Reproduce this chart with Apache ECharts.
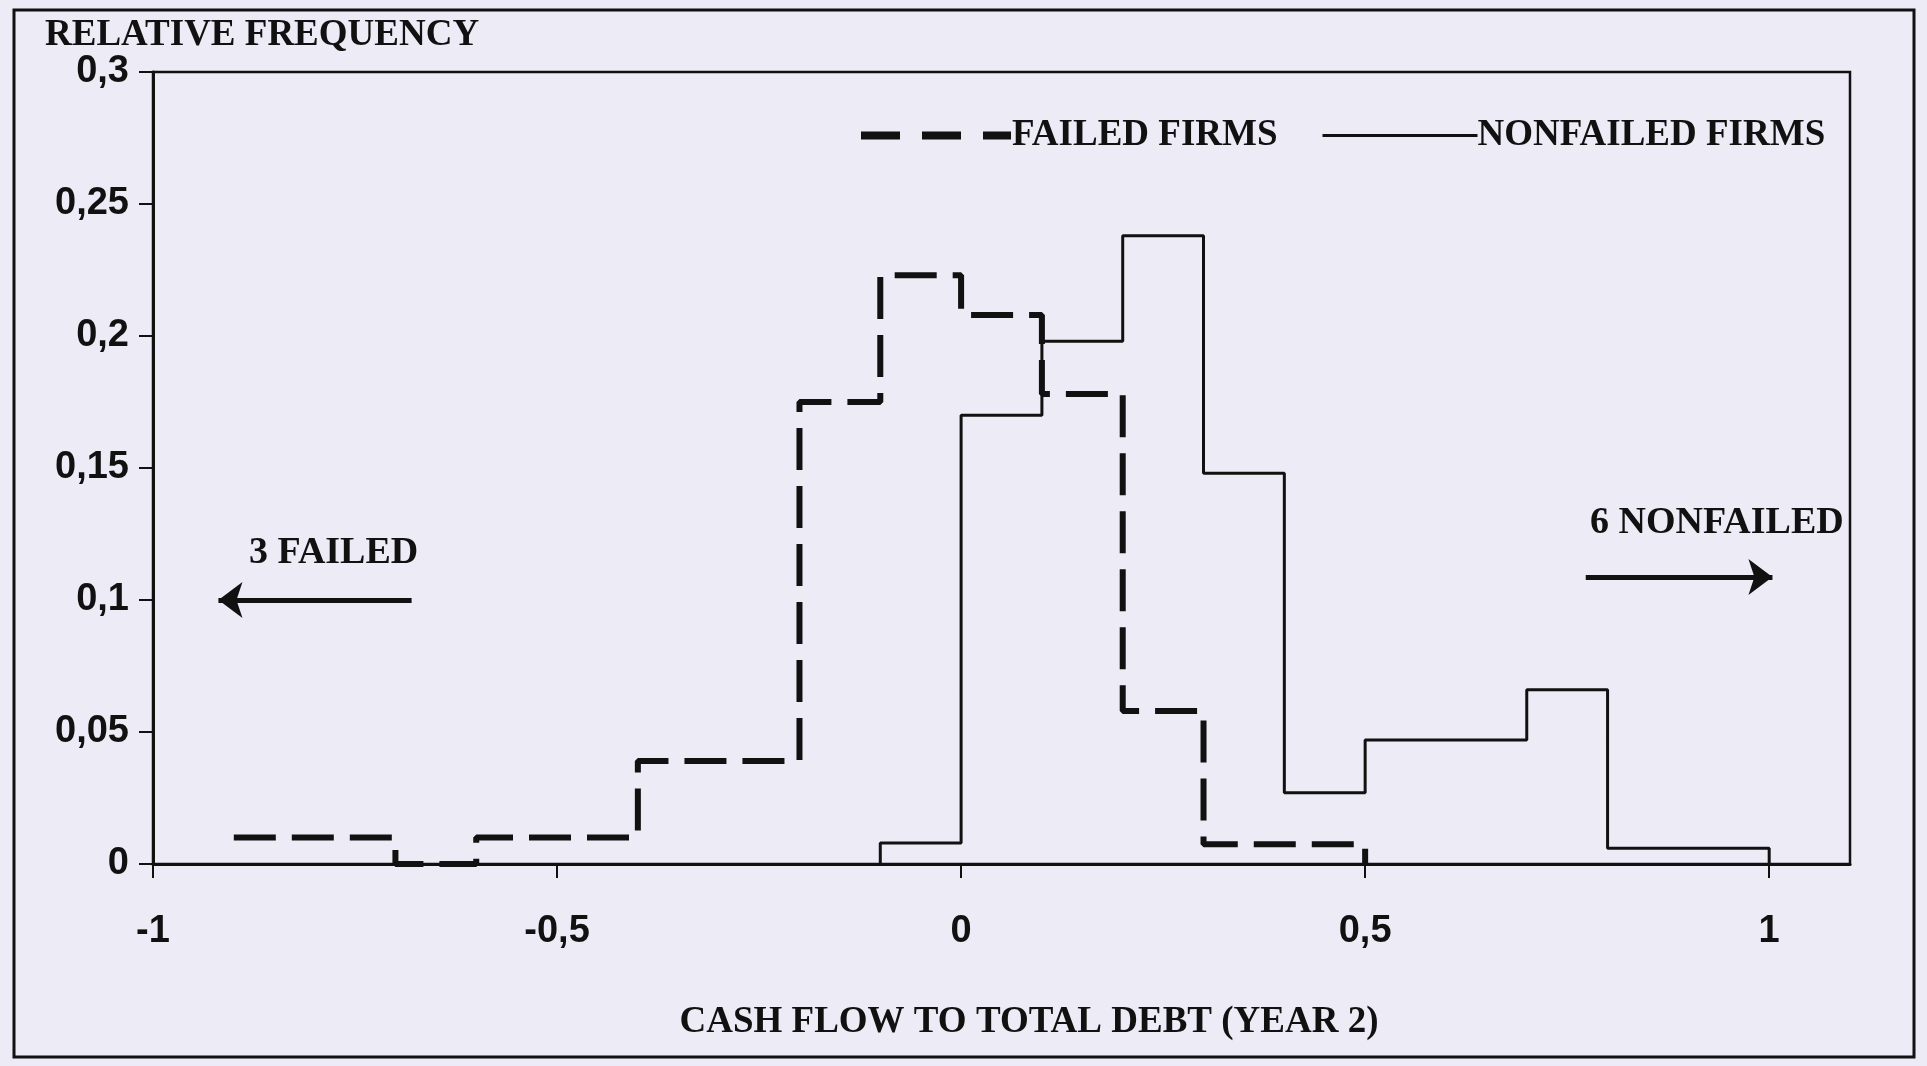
<!DOCTYPE html>
<html>
<head>
<meta charset="utf-8">
<script src="https://cdn.jsdelivr.net/npm/echarts@6/dist/echarts.min.js"></script>
<style>
  html, body { margin: 0; padding: 0; background: #ecebf6; }
  #chart { width: 1927px; height: 1066px; }
</style>
</head>
<body>
<div id="chart"></div>
<script>
// ---- data ----
const failedBinEdges = [-0.9, -0.8, -0.7, -0.6, -0.5, -0.4, -0.3, -0.2, -0.1, 0, 0.1, 0.2, 0.3, 0.4, 0.5];
const failedFreq     = [0.01, 0.01, 0, 0.01, 0.01, 0.039, 0.039, 0.175, 0.223, 0.208, 0.178, 0.058, 0.0075, 0.0075];

const nonfailedBinEdges = [-0.1, 0, 0.1, 0.2, 0.3, 0.4, 0.5, 0.6, 0.7, 0.8, 0.9, 1.0];
const nonfailedFreq     = [0.008, 0.17, 0.198, 0.238, 0.148, 0.027, 0.047, 0.047, 0.066, 0.006, 0.006];

const xTickValues = [-1, -0.5, 0, 0.5, 1];
const yTickValues = [0, 0.05, 0.1, 0.15, 0.2, 0.25, 0.3];

const seriesNames = ['FAILED FIRMS', 'NONFAILED FIRMS'];
const xAxisTitle = 'CASH FLOW TO TOTAL DEBT (YEAR 2)';
const yAxisTitle = 'RELATIVE FREQUENCY';

// outlier annotations: [label, arrow tail x, arrow tip x, arrow y]
const leftOutlier  = ['3 FAILED', -0.68, -0.919, 0.1];
const rightOutlier = ['6 NONFAILED', 0.773, 1.004, 0.1087];

// ---- build step outlines ----
function stepPoints(edges, freq, riseFromZero) {
  const pts = [];
  if (riseFromZero) pts.push([edges[0], 0]);
  for (let i = 0; i < freq.length; i++) {
    pts.push([edges[i], freq[i]]);
    pts.push([edges[i + 1], freq[i]]);
  }
  pts.push([edges[edges.length - 1], 0]);
  return pts;
}
const fmt = v => String(+(+v).toFixed(2)).replace('.', ',');

const INK = '#111111';
const SERIF = 'Liberation Serif';
const SANS = 'Liberation Sans';

const chart = echarts.init(document.getElementById('chart'), null, { renderer: 'canvas' });

const option = {
  backgroundColor: '#ecebf6',
  animation: false,
  grid: {
    left: 153, right: 77, top: 72, bottom: 202,
    show: true, borderColor: INK, borderWidth: 2.5, backgroundColor: 'transparent'
  },
  legend: [
    {
      data: [seriesNames[0]], left: 852, top: 112,
      itemWidth: 150, itemHeight: 14, itemGap: 0,
      itemStyle: { opacity: 0 },
      lineStyle: { color: INK, width: 8, type: [39, 22], cap: 'butt' },
      textStyle: { fontFamily: SERIF, fontWeight: 'bold', fontSize: 37, color: INK, padding: [0, 0, 0, -4] },
      selectedMode: false
    },
    {
      data: [seriesNames[1]], left: 1316, top: 112,
      itemWidth: 155, itemHeight: 14, itemGap: 0,
      itemStyle: { opacity: 0 },
      lineStyle: { color: INK, width: 3, type: 'solid' },
      textStyle: { fontFamily: SERIF, fontWeight: 'bold', fontSize: 37, color: INK, padding: [0, 0, 0, -5] },
      selectedMode: false
    }
  ],
  xAxis: {
    type: 'value', min: -1, max: 1.1, interval: 0.5,
    splitLine: { show: false },
    axisLine: { onZero: false, lineStyle: { color: INK, width: 3 } },
    axisTick: { show: true, inside: false, length: 14, customValues: xTickValues, lineStyle: { color: INK, width: 2 } },
    axisLabel: {
      customValues: xTickValues, formatter: fmt, margin: 49,
      fontFamily: SANS, fontWeight: 'bold', fontSize: 38, color: INK
    }
  },
  yAxis: {
    type: 'value', min: 0, max: 0.3, interval: 0.05,
    splitLine: { show: false },
    axisLine: { onZero: false, lineStyle: { color: INK, width: 3 } },
    axisTick: { show: true, inside: false, length: 14, customValues: yTickValues, lineStyle: { color: INK, width: 2 } },
    axisLabel: {
      customValues: yTickValues, formatter: fmt, margin: 24,
      fontFamily: SANS, fontWeight: 'bold', fontSize: 38, color: INK
    }
  },
  series: [
    {
      name: seriesNames[0], type: 'line', symbol: 'none', showSymbol: false,
      data: stepPoints(failedBinEdges, failedFreq, false),
      lineStyle: { color: INK, width: 6, type: [42, 16], cap: 'butt' },
      itemStyle: { color: INK },
      z: 5,
      markLine: {
        silent: true, animation: false,
        symbol: ['none', 'arrow'], symbolSize: [27, 24],
        lineStyle: { color: INK, width: 5, type: 'solid' },
        label: { show: false },
        data: [
          [{ coord: [leftOutlier[1], leftOutlier[3]] }, { coord: [leftOutlier[2], leftOutlier[3]] }],
          [{ coord: [rightOutlier[1], rightOutlier[3]] }, { coord: [rightOutlier[2], rightOutlier[3]] }]
        ]
      }
    },
    {
      name: seriesNames[1], type: 'line', symbol: 'none', showSymbol: false,
      data: stepPoints(nonfailedBinEdges, nonfailedFreq, true),
      lineStyle: { color: INK, width: 3, type: 'solid' },
      itemStyle: { color: INK },
      z: 4
    }
  ],
  graphic: [
    {
      type: 'rect', silent: true, z: -1,
      shape: { x: 14, y: 10, width: 1900, height: 1047 },
      style: { fill: null, stroke: INK, lineWidth: 3 }
    },
    {
      type: 'text', left: 45, top: 17,
      style: { text: yAxisTitle, font: 'bold 37px "Liberation Serif"', fill: INK }
    },
    {
      type: 'text', x: 1029, y: 1022,
      style: { text: xAxisTitle, font: 'bold 37px "Liberation Serif"', fill: INK, align: 'center', verticalAlign: 'middle' }
    },
    {
      type: 'text', x: 249, y: 553,
      style: { text: leftOutlier[0], font: 'bold 38px "Liberation Serif"', fill: INK, align: 'left', verticalAlign: 'middle' }
    },
    {
      type: 'text', x: 1590, y: 523,
      style: { text: rightOutlier[0], font: 'bold 38px "Liberation Serif"', fill: INK, align: 'left', verticalAlign: 'middle' }
    }
  ]
};
chart.setOption(option);
</script>
</body>
</html>
